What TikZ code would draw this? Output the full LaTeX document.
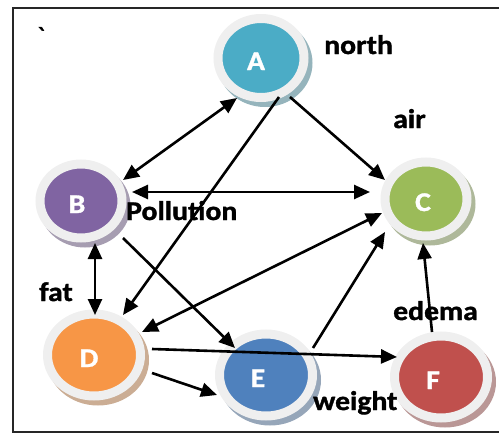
\documentclass[tikz,border=0pt]{standalone}
\usepackage{fontspec}
\setmainfont{Carlito}[BoldFeatures={FakeBold=1.2}]
\newfontfamily\rawfont[Ligatures=TeXOff,FakeBold=2]{Carlito}
\usetikzlibrary{shapes.geometric,arrows.meta,calc}
\definecolor{cA}{HTML}{4BACC6}
\definecolor{cB}{HTML}{8064A2}
\definecolor{cC}{HTML}{9BBB59}
\definecolor{cD}{HTML}{F79646}
\definecolor{cE}{HTML}{4F81BD}
\definecolor{cF}{HTML}{C0504D}
\definecolor{ring}{HTML}{EFEFEF}
\newcommand\hs[1]{\scalebox{1.1}[1]{#1}}
\tikzset{
  ball/.style={ellipse, inner sep=0pt, fill=#1, draw=ring, line width=9pt,
    text=white, text height=24pt, text depth=0pt,
    font=\bfseries\fontsize{27}{30}\selectfont,
    preaction={fill=#1!45!gray!70!white, draw=#1!45!gray!70!white,
      transform canvas={xshift=4pt,yshift=-5pt}}},
  big/.style={minimum width=93pt, minimum height=82pt},
  mid/.style={minimum width=86pt, minimum height=79pt},
  small/.style={minimum width=82pt, minimum height=74pt},
  lbl/.style={anchor=base west, inner sep=0pt, font=\bfseries\fontsize{27}{30}\selectfont},
  conn/.style={line width=2.6pt, -{Triangle[length=16pt,width=14pt]}},
  dconn/.style={line width=2.6pt, {Triangle[length=16pt,width=14pt]}-{Triangle[length=16pt,width=14pt]}},
  frame/.style={line width=1.8pt, black!85}
}
\begin{document}
\begin{tikzpicture}[x=1pt,y=-1pt]
\useasboundingbox (0,0) rectangle (499,434);
\draw[frame] (499,8) -- (13,8) -- (13,432) -- (499,432);
\node[inner sep=0pt, font=\rawfont\fontsize{26}{26}\selectfont] (tick) at (41,36) {`};

\node[ball=cA, mid]   (A) at (261,58)  {\hspace*{-10pt}\hs{A}};
\node[ball=cB, small] (B) at (81,201)  {\hspace*{-8pt}\hs{B}};
\node[ball=cC, small] (C) at (426,199) {\hspace*{-6pt}\hs{C}};
\node[ball=cD, big]   (D) at (94,355)  {\hspace*{-10pt}\hs{D}};
\node[ball=cE, big]   (E) at (266,375) {\hspace*{-16pt}\hs{E}};
\node[ball=cF, big]   (F) at (441,377) {\hspace*{-16pt}\hs{F}};

\node[lbl] (north) at (324,54)  {\hs{north}};
\node[lbl] (air)   at (393,128) {\hs{air}};
\node[lbl] (poll)  at (126,220) {\hs{Pollution}};
\node[lbl] (fat)   at (39,301)  {\hs{fat}};
\node[lbl] (edema) at (393,320) {\hs{edema}};
\node[lbl] (weight) at (313,410) {\hs{weight}};

\draw[dconn] ($(A)+(-24,40)$) -- ($(B)+(42,-21)$);
\draw[conn]  ($(A)+(29,39)$)  -- ($(C)+(-41,-19)$);
\draw[conn]  ($(A)+(18,39)$)  -- ($(D)+(29,-40)$);
\draw[dconn] ($(B)+(51,-9)$)  -- ($(C)+(-56,-7)$);
\draw[dconn] ($(B)+(14,42)$)  -- ($(D)+(1,-40)$);
\draw[conn]  ($(B)+(42,37)$)  -- ($(E)+(-31,-27)$);
\draw[dconn] ($(C)+(-44,14)$) -- ($(D)+(48,-23)$);
\draw[conn]  ($(D)+(58,-6)$)  -- ($(F)+(-44,-20)$);
\draw[conn]  ($(D)+(58,18)$)  -- ($(E)+(-49,20)$);
\draw[conn]  ($(E)+(47,-27)$) -- ($(C)+(-41,33)$);
\draw[conn]  ($(F)+(-9,-45)$) -- ($(C)+(-3,44)$);
\end{tikzpicture}
\end{document}
